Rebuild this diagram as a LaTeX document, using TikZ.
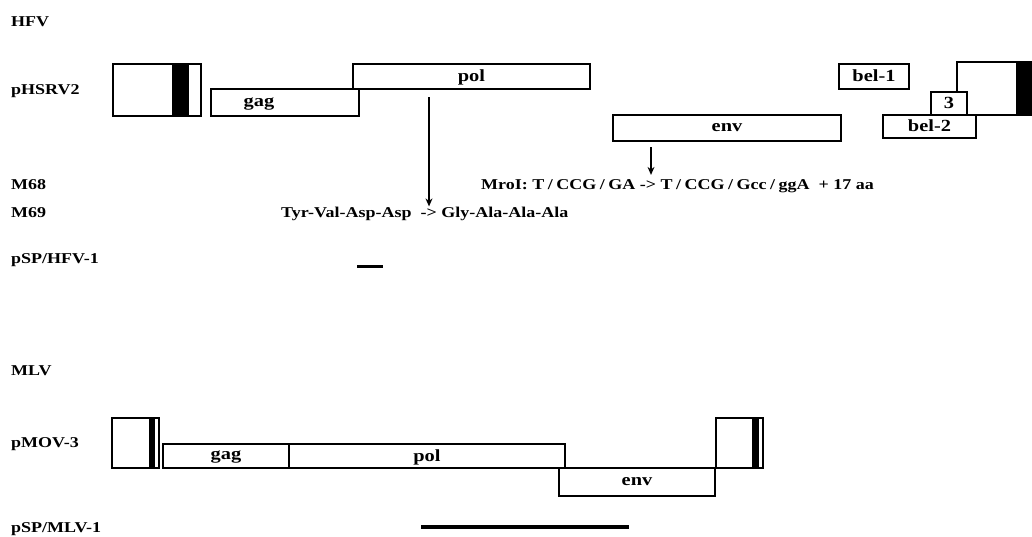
\documentclass[tikz,border=0pt]{standalone}
\usepackage{fontspec}
\setmainfont{Liberation Serif}[FakeStretch=1.2]
\usetikzlibrary{arrows.meta}
\tikzset{
  gene/.style={rectangle, draw, fill=white, line width=1.1pt, inner sep=0pt,
               font=\fontsize{17}{17}\selectfont\bfseries, text depth=1pt},
  ltr/.style={rectangle, draw, fill=white, line width=1.1pt, inner sep=0pt},
  lbl/.style={anchor=base west, inner sep=0pt,
              font=\fontsize{15}{15}\selectfont\bfseries},
  arrow/.style={-{Stealth[length=8pt,width=7pt]}, line width=1.2pt},
  probe/.style={line width=3pt}
}
\newcommand{\seqsl}{\kern3.5pt/\kern3.5pt}
\begin{document}
\begin{tikzpicture}[x=1pt, y=-1pt]
  \useasboundingbox (0,0) rectangle (1032,536);

  % row labels
  \node[lbl] (hfv) at (11,26) {HFV};
  \node[lbl] (phsrv) at (11,94) {pHSRV2};
  \node[lbl] (m68) at (11,189) {M68};
  \node[lbl] (m69) at (11,217) {M69};
  \node[lbl] (psphfv) at (11,263) {pSP/HFV-1};
  \node[lbl] (mlv) at (11,375) {MLV};
  \node[lbl] (pmov) at (11,447) {pMOV-3};
  \node[lbl] (psmlv) at (11,532) {pSP/MLV-1};

  % HFV provirus
  \node[ltr, minimum width=88pt, minimum height=52pt] (hltrL) at (157,90) {};
  \fill (172,64) rectangle (189,116);
  \node[gene, minimum width=148pt, minimum height=27pt] (hgag) at (285,102.5) {};
  \node[font=\fontsize{17}{17}\selectfont\bfseries, text depth=1pt] (hgagtxt) at (259,102.5) {gag};
  \node[gene, minimum width=237pt, minimum height=25pt] (hpol) at (471.5,76.5) {pol};
  \node[gene, minimum width=228pt, minimum height=26pt] (henv) at (727,128) {env};
  \node[gene, minimum width=70pt, minimum height=25pt] (hbel1) at (874,76.5) {bel-1};
  \node[ltr, minimum width=74pt, minimum height=53pt] (hltrR) at (994,88.5) {};
  \fill (1016,62) rectangle (1031.5,115);
  \node[gene, minimum width=36pt, minimum height=23pt] (hbel3) at (949,103.5) {3};
  \node[gene, minimum width=93pt, minimum height=23pt] (hbel2) at (929.5,126.5) {bel-2};

  % mutations
  \node[lbl] (mroi) at (481,189) {MroI: T\seqsl CCG\seqsl GA -> T\seqsl CCG\seqsl Gcc\seqsl ggA\ \ + 17 aa};
  \node[lbl] (tyr) at (281,217) {Tyr-Val-Asp-Asp\ \ -> Gly-Ala-Ala-Ala};
  \coordinate (polmut) at (429,97);
  \coordinate (envmut) at (651,147);
  \draw[arrow] (polmut) -- (polmut |- tyr.north);
  \draw[arrow, shorten >=4pt] (envmut) -- (envmut |- mroi.north);

  % HFV probe
  \coordinate (hp1) at (357,266);
  \coordinate (hp2) at (383,266);
  \draw[probe] (hp1) -- (hp2);

  % MLV provirus
  \node[ltr, minimum width=47pt, minimum height=50pt] (mltrL) at (135.5,443) {};
  \fill (149,418) rectangle (155,468);
  \node[gene, minimum width=126pt, minimum height=24pt] (mgag) at (226,456) {gag};
  \node[gene, minimum width=276pt, minimum height=24pt] (mpol) at (427,456) {pol};
  \node[gene, minimum width=156pt, minimum height=28pt] (menv) at (637,482) {env};
  \node[ltr, minimum width=47pt, minimum height=50pt] (mltrR) at (739.5,443) {};
  \fill (752,418) rectangle (759,468);

  % MLV probe
  \coordinate (mp1) at (421,527);
  \coordinate (mp2) at (629,527);
  \draw[probe, line width=4pt] (mp1) -- (mp2);
\end{tikzpicture}
\end{document}
